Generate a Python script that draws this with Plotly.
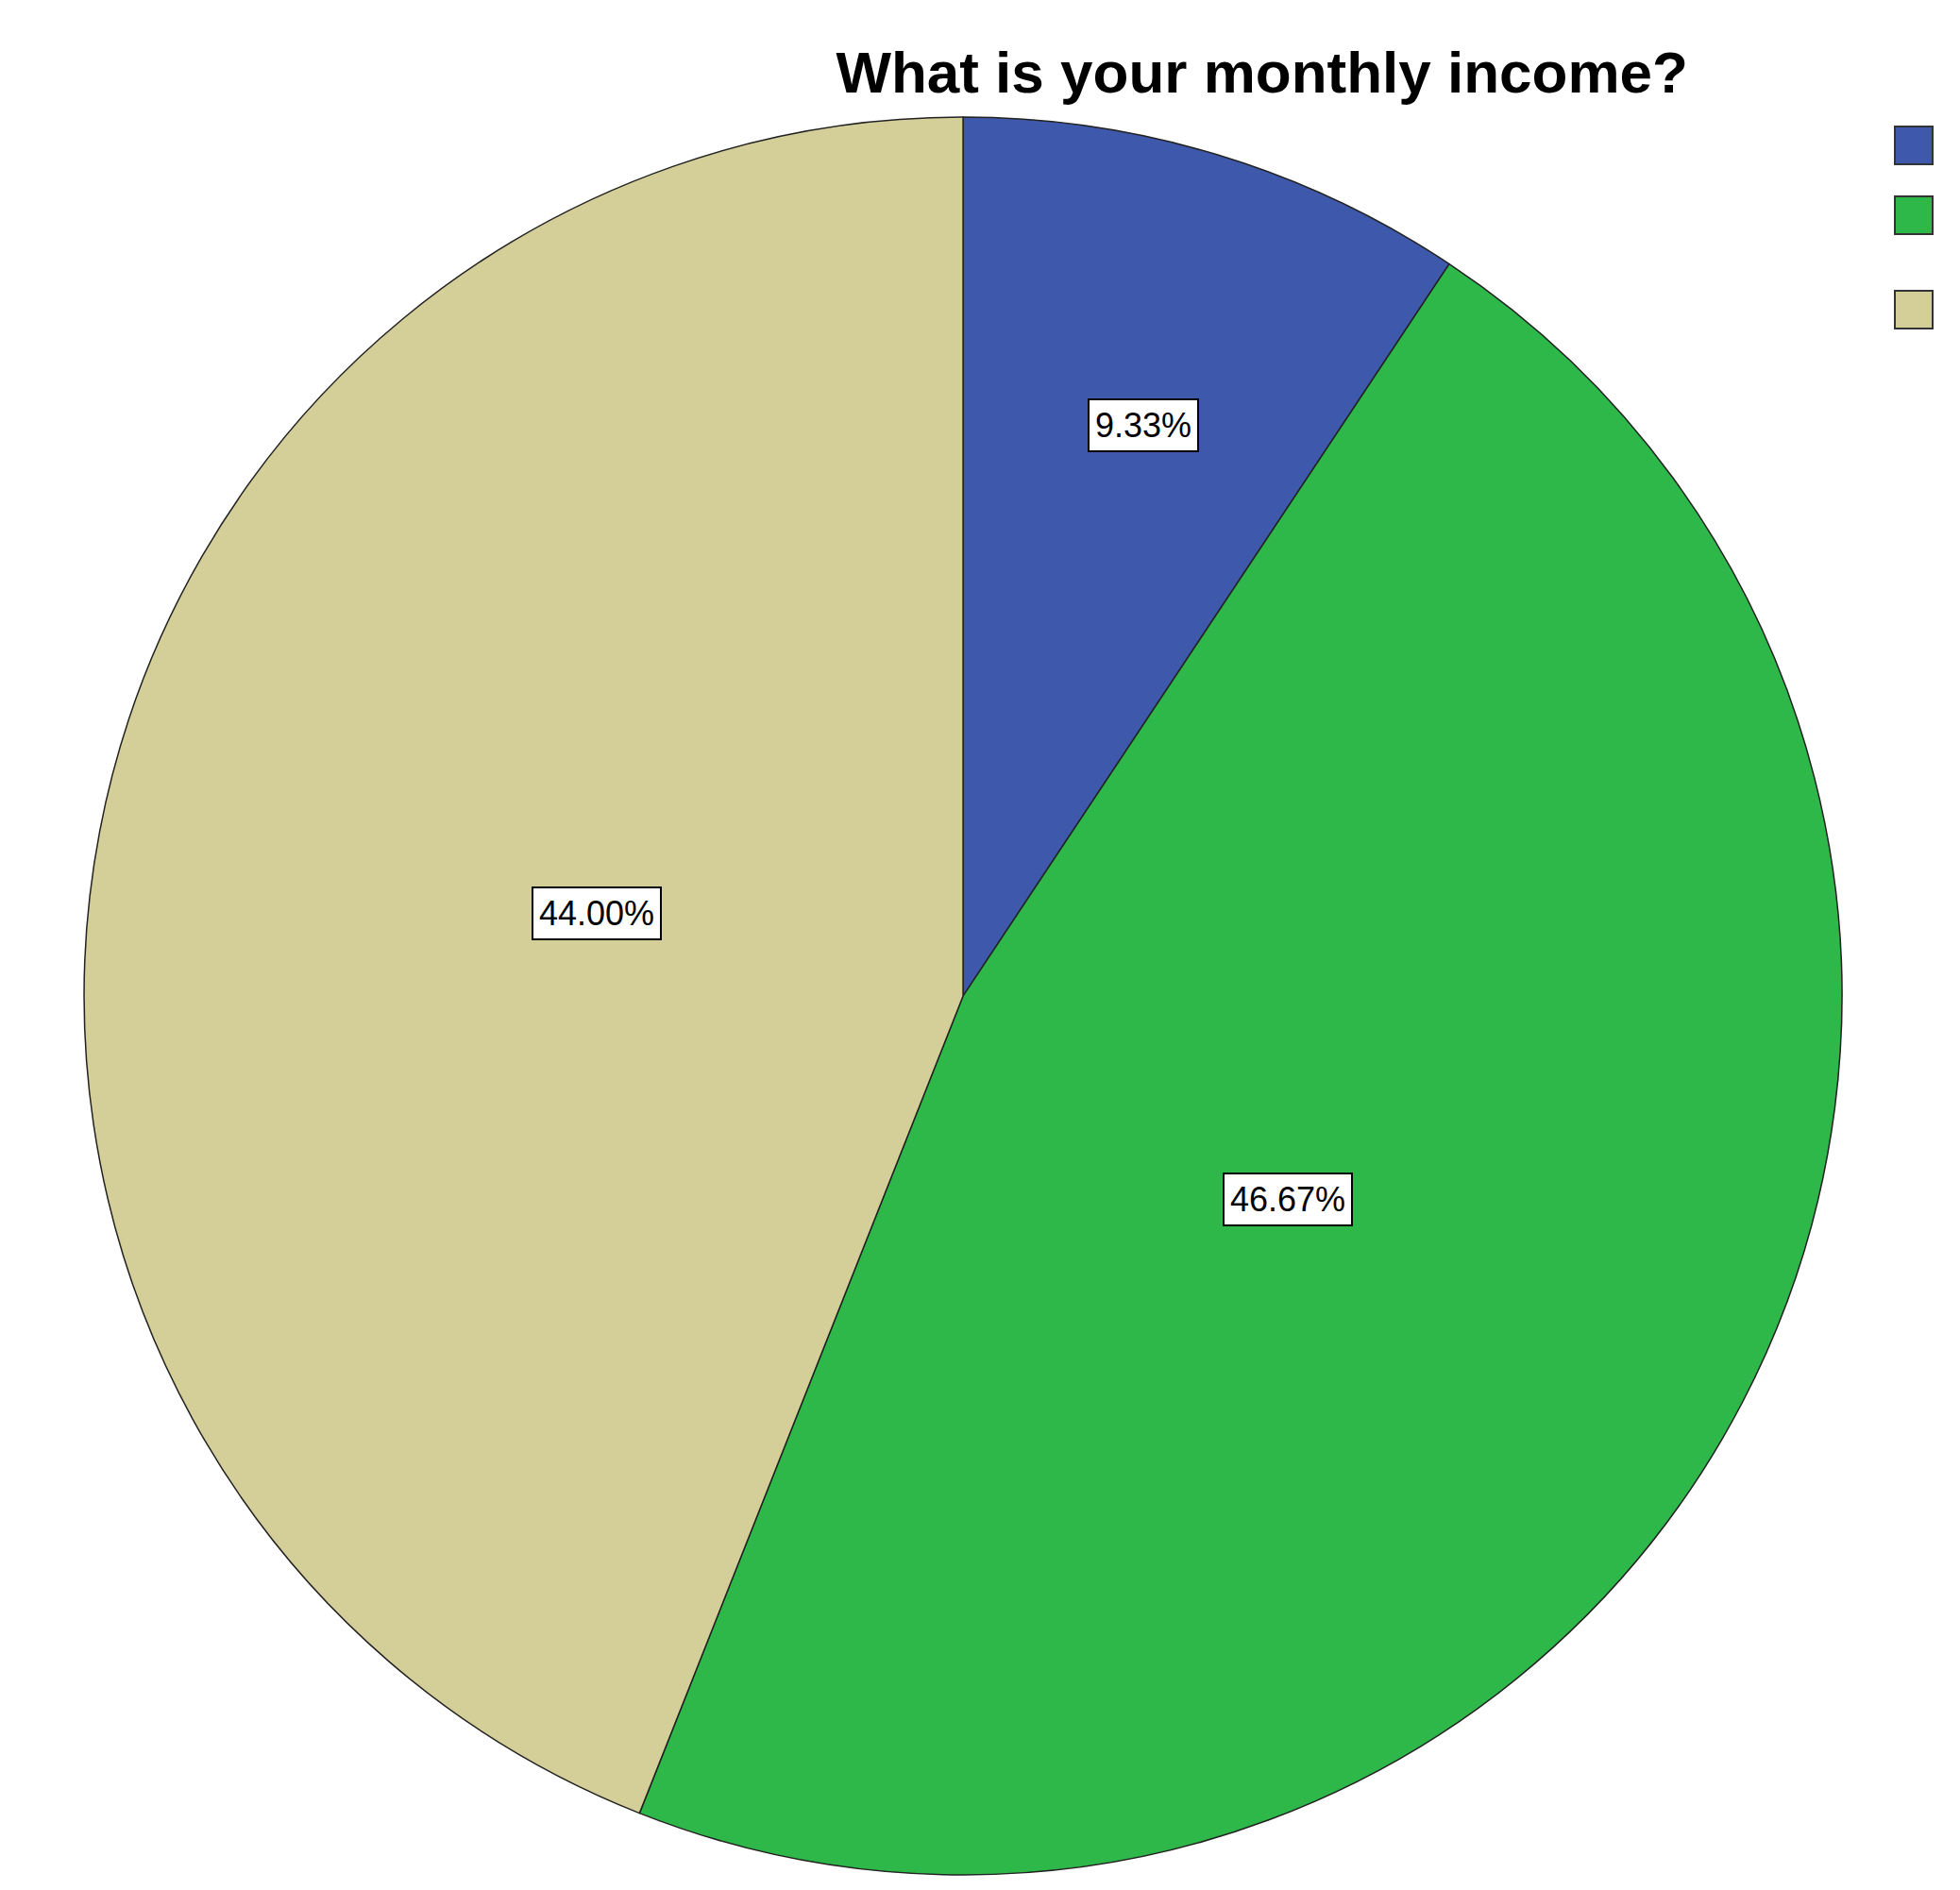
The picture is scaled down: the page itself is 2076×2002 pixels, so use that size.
import numpy as np
import plotly.graph_objects as go

# monthly income shares (legend labels are blank in the source)
labels = ["a", "b", "c"]
shares = [9.33, 46.67, 44.00]
colors = ["#3e58ac", "#2eb84a", "#d4cf98"]

W, H = 2076, 2002
dom_x = [0.01, 0.965]
dom_y = [0.012, 0.942]

fig = go.Figure(go.Pie(
    labels=labels, values=shares, sort=False, direction="clockwise", rotation=0,
    marker=dict(colors=colors, line=dict(color="#222222", width=1.5)),
    textinfo="none", hoverinfo="percent", showlegend=False,
    domain=dict(x=dom_x, y=dom_y),
))

# label boxes, mid-angle of each slice
label_r = [0.71, 0.5, 0.5]
cx = (dom_x[0] + dom_x[1]) / 2 * W
cy = (1 - (dom_y[0] + dom_y[1]) / 2) * H
R = min((dom_x[1] - dom_x[0]) * W, (dom_y[1] - dom_y[0]) * H) / 2
cum = np.cumsum([0] + shares)
for i, v in enumerate(shares):
    a = np.radians((cum[i] + v / 2) / sum(shares) * 360)
    px = cx + label_r[i] * R * np.sin(a)
    py = cy - label_r[i] * R * np.cos(a)
    fig.add_annotation(x=px / W, y=1 - py / H, xref="paper", yref="paper",
                       text=f"{v:.2f}%", showarrow=False,
                       font=dict(family="Liberation Sans", size=36, color="black"),
                       bgcolor="white", bordercolor="black", borderwidth=2, borderpad=6)

# blank legend: coloured squares only
legend_y = [126, 200, 300]
for c, ly in zip(colors, legend_y):
    fig.add_shape(type="rect", xref="paper", yref="paper",
                  x0=1999 / W, x1=2039 / W, y0=1 - (ly + 40) / H, y1=1 - ly / H,
                  fillcolor=c, line=dict(color="#333333", width=2))

fig.update_layout(
    width=W, height=H, margin=dict(l=0, r=0, t=0, b=0),
    paper_bgcolor="white",
    title=dict(text="<b>What is your monthly income?</b>", x=0.64, xanchor="center",
               y=0.966, yanchor="middle",
               font=dict(family="Liberation Sans", size=62, color="black")),
)

fig.write_html("out.html")
